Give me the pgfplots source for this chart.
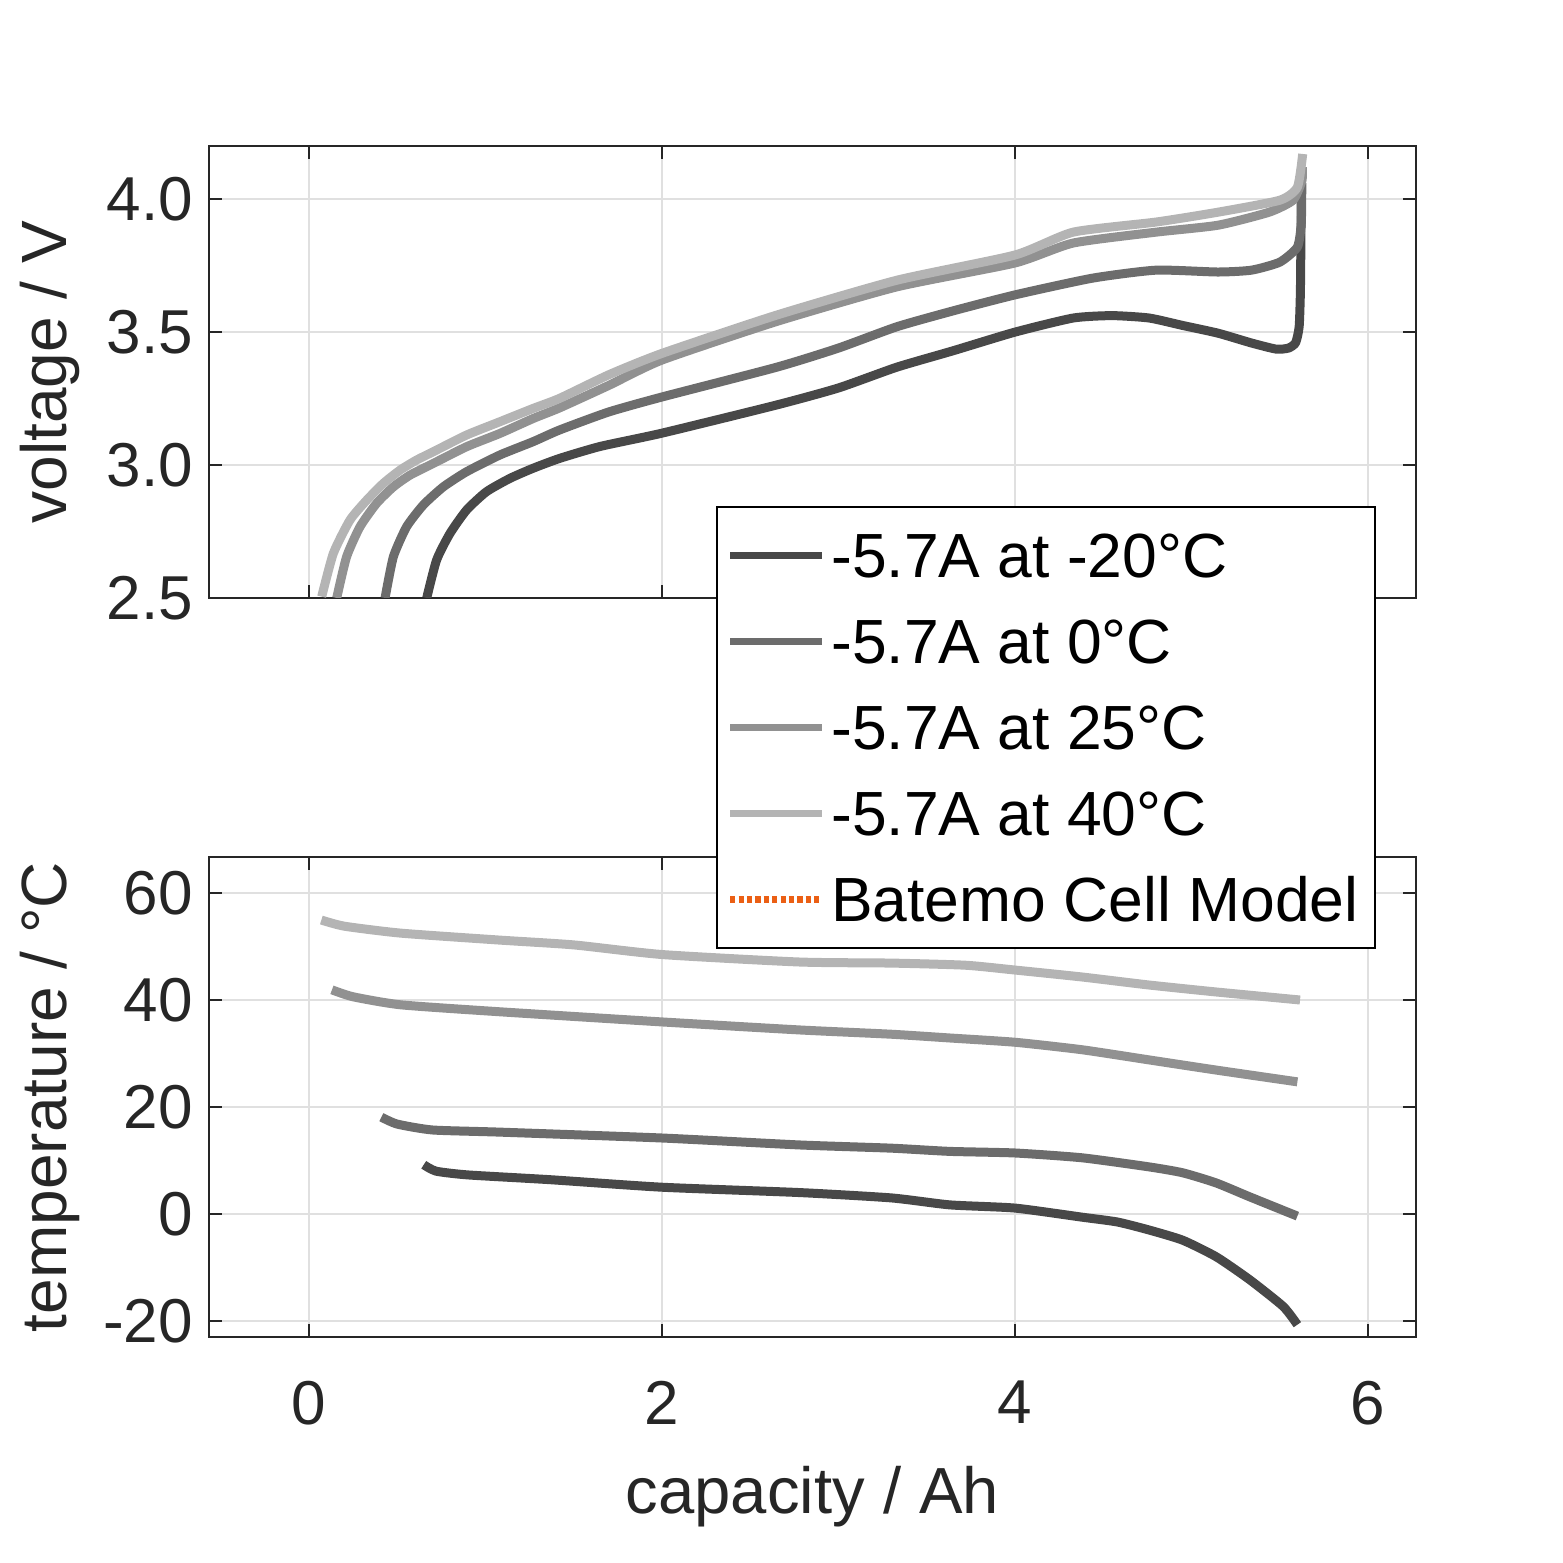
\documentclass[border=0pt]{standalone}
\usepackage{fontspec}
\setmainfont{Liberation Sans}
\usepackage{pgfplots}
\pgfplotsset{compat=1.18}
\definecolor{axc}{RGB}{38,38,38}
\definecolor{cA}{RGB}{72,72,72}
\definecolor{cB}{RGB}{108,108,108}
\definecolor{cC}{RGB}{145,145,145}
\definecolor{cD}{RGB}{180,180,180}
\definecolor{orng}{RGB}{235,95,20}
\pgfplotsset{
  common/.style={
    scale only axis,
    width=301.75pt,
    xmin=-0.5666, xmax=6.272,
    xtick={0,2,4,6},
    tick align=inside,
    tick pos=both,
    major tick length=3.2pt,
    tick style={color=axc, line width=0.5pt},
    axis line style={color=axc, line width=0.6pt},
    grid=major,
    major grid style={color=black!12, line width=0.5pt},
    /pgf/number format/assume math mode=true,
    tick label style={font=\fontsize{15.5}{18}\selectfont, text=axc},
    yticklabel style={xshift=-0.5pt},
    label style={font=\fontsize{16}{19}\selectfont, text=axc},
    every axis plot/.append style={line width=2.25pt, line join=round, smooth, tension=0.35},
  }
}
\begin{document}
\begin{tikzpicture}
\path[use as bounding box] (0,0) rectangle (390.75pt,390.75pt);
% bottom: temperature
\begin{axis}[common,
  at={(52.25pt,56.5pt)}, anchor=south west,
  height=120pt,
  ymin=-23, ymax=66.73,
  ytick={-20,0,20,40,60},
  xlabel={capacity / Ah},
  ylabel={temperature / °C},
  xlabel style={at={(axis description cs:0.5,-0.3667)}, anchor=base, font=\fontsize{16.3}{19}\selectfont},
  ylabel style={at={(axis description cs:-0.1317,0.5)}, anchor=center},
  xticklabel style={yshift=-7.5pt},
]
\addplot[cA] coordinates {(0.65,9.2) (0.72,8.0) (0.9,7.3) (1.37,6.4) (2.0,5.0) (2.78,4.0) (3.3,3.0) (3.63,1.7) (4.0,1.1) (4.38,-0.6) (4.58,-1.5) (4.76,-3.0) (4.95,-4.9) (5.14,-8.0) (5.33,-12.3) (5.52,-17.3) (5.60,-20.7)};
\addplot[cB] coordinates {(0.41,18.1) (0.5,16.8) (0.70,15.7) (1.08,15.3) (2.0,14.2) (2.78,12.9) (3.3,12.3) (3.63,11.7) (4.0,11.4) (4.38,10.5) (4.76,8.8) (4.95,7.7) (5.14,5.8) (5.33,3.2) (5.60,-0.4)};
\addplot[cC] coordinates {(0.13,41.9) (0.25,40.6) (0.52,39.1) (1.08,37.8) (2.0,35.9) (2.78,34.4) (3.3,33.6) (3.63,32.9) (4.0,32.1) (4.38,30.7) (4.76,28.8) (5.14,26.9) (5.60,24.7)};
\addplot[cD] coordinates {(0.07,54.95) (0.2,53.8) (0.52,52.5) (1.08,51.2) (1.5,50.3) (2.0,48.5) (2.78,47.1) (3.3,46.9) (3.72,46.5) (4.0,45.6) (4.38,44.3) (4.76,42.8) (5.14,41.5) (5.615,40.0)};
\end{axis}
% top: voltage
\begin{axis}[common,
  at={(52.25pt,241.25pt)}, anchor=south west,
  height=113pt,
  ymin=2.5, ymax=4.2,
  ytick={2.5,3.0,3.5,4.0},
  xticklabels={},
  yticklabel style={/pgf/number format/.cd, fixed, fixed zerofill, precision=1},
  ylabel={voltage / V},
  ylabel style={at={(axis description cs:-0.1317,0.5)}, anchor=center},
  legend cell align=left,
  legend image code/.code={\draw[#1, line width=1.6pt, sharp plot] (0pt,0pt) -- (23pt,0pt);},
  legend style={at={(0.42,0.2035)}, anchor=north west, draw=black, line width=0.5pt, fill=white,
    font=\fontsize{15.6}{18}\selectfont, text=black,
    row sep=6.3pt, inner xsep=2.5pt, inner ysep=4.5pt,
    nodes={inner xsep=1.5pt, inner ysep=2pt, text height=11.2pt, text depth=0pt}},
]
\addplot[cA] coordinates {(0.667,2.50) (0.723,2.643) (0.799,2.743) (0.893,2.831) (1.006,2.90) (1.139,2.95) (1.27,2.988) (1.42,3.025) (1.65,3.07) (2.0,3.12) (2.65,3.226) (3.0,3.29) (3.33,3.368) (3.65,3.43) (4.0,3.50) (4.33,3.553) (4.55,3.562) (4.76,3.553) (4.95,3.525) (5.15,3.496) (5.34,3.459) (5.48,3.436) (5.55,3.44) (5.59,3.46) (5.61,3.52) (5.617,3.65) (5.62,3.85) (5.622,4.06)};
\addlegendentry{-5.7A at -20°C}
\addplot[cB] coordinates {(0.431,2.50) (0.478,2.655) (0.553,2.768) (0.648,2.85) (0.761,2.918) (0.893,2.975) (1.082,3.038) (1.27,3.088) (1.42,3.132) (1.7,3.20) (2.0,3.256) (2.65,3.368) (3.0,3.44) (3.33,3.52) (3.65,3.58) (4.0,3.64) (4.44,3.703) (4.8,3.733) (5.15,3.726) (5.34,3.733) (5.5,3.763) (5.6,3.82) (5.622,3.91) (5.625,4.06)};
\addlegendentry{-5.7A at 0°C}
\addplot[cC] coordinates {(0.157,2.50) (0.213,2.655) (0.289,2.768) (0.383,2.856) (0.478,2.918) (0.572,2.962) (0.704,3.006) (0.893,3.069) (1.082,3.119) (1.27,3.175) (1.42,3.215) (1.7,3.30) (2.0,3.395) (2.65,3.54) (3.33,3.67) (4.0,3.76) (4.33,3.835) (4.8,3.876) (5.15,3.902) (5.44,3.951) (5.575,3.996) (5.626,4.07) (5.628,4.12)};
\addlegendentry{-5.7A at 25°C}
\addplot[cD] coordinates {(0.072,2.505) (0.138,2.668) (0.232,2.793) (0.327,2.868) (0.421,2.931) (0.516,2.981) (0.61,3.019) (0.704,3.05) (0.893,3.113) (1.082,3.163) (1.27,3.213) (1.42,3.251) (1.7,3.34) (2.0,3.42) (2.65,3.564) (3.33,3.695) (4.0,3.79) (4.33,3.876) (4.8,3.914) (5.15,3.951) (5.5,3.996) (5.6,4.045) (5.63,4.17)};
\addlegendentry{-5.7A at 40°C}
\addlegendimage{orng, dash pattern=on 1.3pt off 0.8pt}
\addlegendentry{Batemo Cell Model}
\end{axis}
\end{tikzpicture}
\end{document}
